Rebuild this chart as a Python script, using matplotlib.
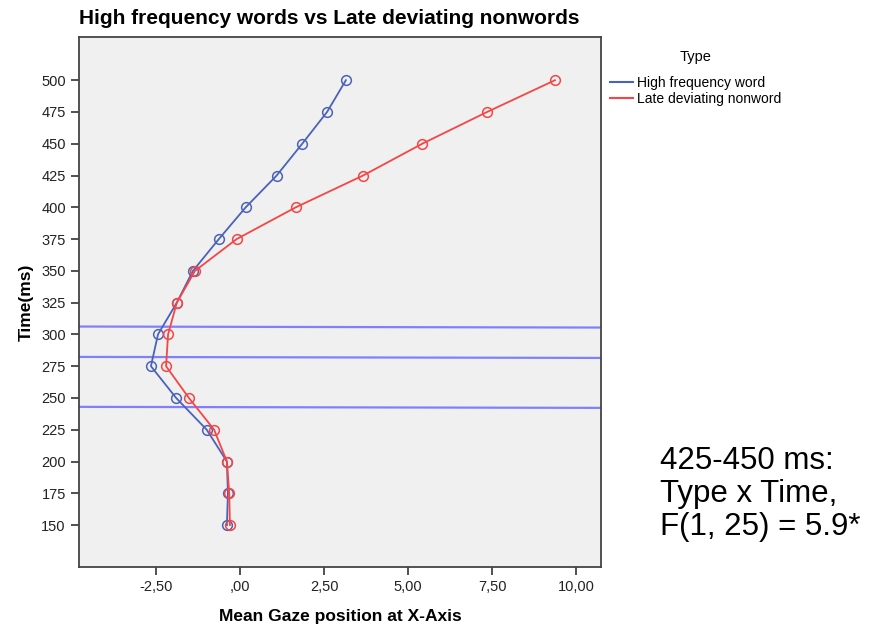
import matplotlib
matplotlib.use("Agg")
import matplotlib.pyplot as plt
from matplotlib.ticker import FuncFormatter

plt.rcParams['font.family'] = ['Liberation Sans', 'DejaVu Sans']

# time points (ms) and mean gaze positions per type
time_ms = [500, 475, 450, 425, 400, 375, 350, 325, 300, 275, 250, 225, 200, 175, 150]
hf_word = [3.15, 2.59, 1.85, 1.09, 0.17, -0.63, -1.40, -1.88, -2.44, -2.65, -1.90, -0.99, -0.39, -0.36, -0.39]
late_nonword = [9.37, 7.35, 5.42, 3.66, 1.66, -0.10, -1.34, -1.88, -2.14, -2.20, -1.52, -0.77, -0.39, -0.32, -0.30]

# hand-drawn marker lines (y at left, y at right of the plot)
marker_lines = [(306.2, 305.4), (282.3, 281.5), (243.0, 242.2)]

x_ticks = [-2.5, 0, 2.5, 5, 7.5, 10]
y_ticks = list(range(150, 501, 25))

blue = '#4a63b8'
red = '#f64545'


def comma_fmt(v, pos):
    s = f'{v:.2f}'.replace('.', ',')
    if s == '0,00':
        s = ',00'
    return s


fig = plt.figure(figsize=(8.7, 6.26), dpi=100)
ax = fig.add_axes([79 / 870, 1 - 567 / 626, 522 / 870, 530 / 626])
ax.set_facecolor('#f0f0f0')

ax.plot(hf_word, time_ms, color=blue, lw=1.3, marker='o', ms=7, mfc='none',
        mec=blue, mew=1.1, label='High frequency word')
ax.plot(late_nonword, time_ms, color=red, lw=1.3, marker='o', ms=7, mfc='none',
        mec=red, mew=1.1, label='Late deviating nonword')

ax.set_xlim(-4.79, 10.74)
ax.set_ylim(117, 534)

for y0, y1 in marker_lines:
    ax.plot([-4.79, 10.74], [y0, y1], color='#8080ff', lw=1.6, zorder=1)

ax.set_xticks(x_ticks)
ax.xaxis.set_major_formatter(FuncFormatter(comma_fmt))
ax.set_yticks(y_ticks)
ax.tick_params(direction='out', length=6, width=1.2, color='#333333',
               labelsize=10.5, labelcolor='#222222')
for s in ax.spines.values():
    s.set_color('#444444')
    s.set_linewidth(1.3)

ax.set_xlabel('Mean Gaze position at X-Axis', fontsize=12.5, fontweight='bold', labelpad=11)
ax.set_ylabel('Time(ms)', fontsize=12.5, fontweight='bold', labelpad=5)
fig.text(79 / 870, 1 - 19 / 626, 'High frequency words vs Late deviating nonwords',
         fontsize=15, fontweight='bold', va='center', ha='left')

leg = fig.legend(loc='upper left', bbox_to_anchor=(598 / 870, 1 - 37 / 626),
                 title='Type', frameon=False, fontsize=10, title_fontsize=10.5,
                 handlelength=1.6, handletextpad=0.3, labelspacing=0.15)
leg._legend_box.sep = 9
for line in leg.get_lines():
    line.set_marker('')
    line.set_linewidth(1.5)

fig.text(660 / 870, 1 - 494 / 626, '425-450 ms:\nType x Time,\nF(1, 25) = 5.9*',
         fontsize=22.5, va='center', ha='left', linespacing=1.15)

fig.savefig('out.png', dpi=100)
